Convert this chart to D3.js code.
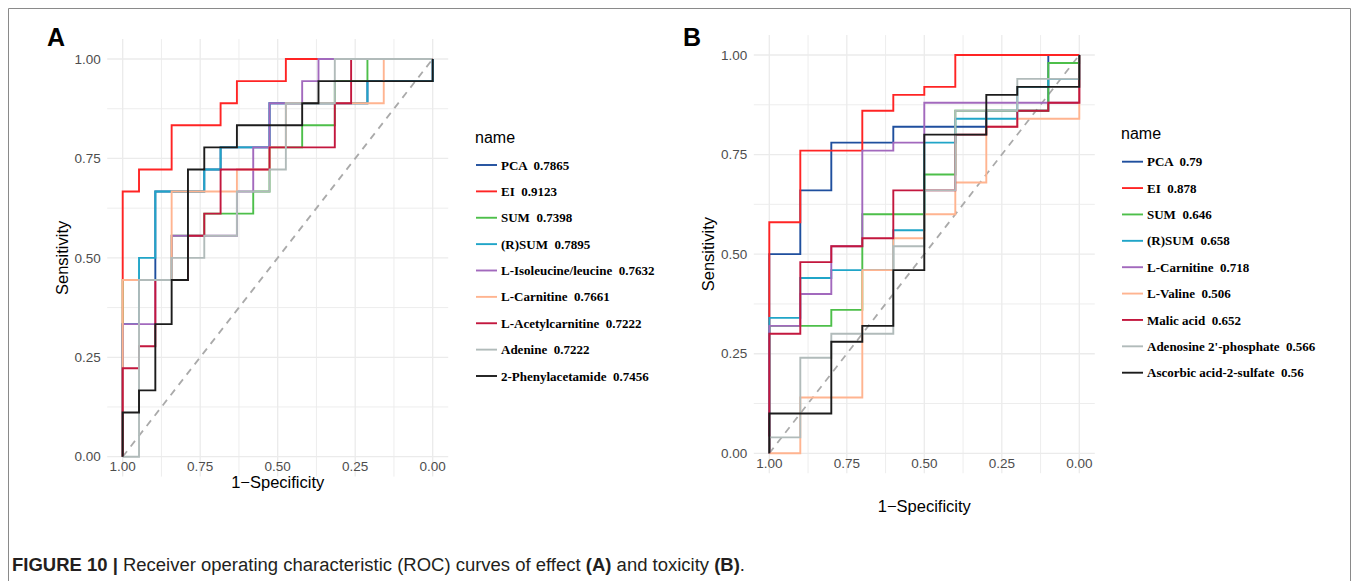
<!DOCTYPE html>
<html>
<head>
<meta charset="utf-8">
<style>
  body { margin: 0; background: #fff; }
  svg text { font-family: "Liberation Sans", Arial, sans-serif; }
  .legend text.item { font-family: "Liberation Serif", "Times New Roman", serif; font-weight: bold; font-size: 13px; white-space: pre; }
</style>
</head>
<body>
<svg id="fig" width="1355" height="581"></svg>

<script src="https://cdn.jsdelivr.net/npm/d3@7/dist/d3.min.js"></script>

<script>
    // colours shared by both panels (ggplot order of the legend)
    var colors = ["#1f4f9e", "#ff2424", "#4dbf4a", "#20a5c8", "#a269bd", "#ffb490", "#c3173e", "#b1bbba", "#1c1c1c"];

    // ---- panel A : effect (19 controls, 18 cases) ----
    var effectNames = ["PCA", "EI", "SUM", "(R)SUM", "L-Isoleucine/leucine", "L-Carnitine", "L-Acetylcarnitine", "Adenine", "2-Phenylacetamide"];
    var effectAuc = ["0.7865", "0.9123", "0.7398", "0.7895", "0.7632", "0.7661", "0.7222", "0.7222", "0.7456"];
    var effectControls = 19;
    var effectCases = 18;
    // true positives reached at each count of false positives (0..19)
    var effectTp = [
      [6, 8, 12, 12, 12, 13, 14, 14, 14, 16, 16, 16, 16, 16, 16, 17, 17, 17, 17, 18],
      [12, 13, 13, 15, 15, 15, 16, 17, 17, 17, 18, 18, 18, 18, 18, 18, 18, 18, 18, 18],
      [8, 8, 8, 10, 10, 11, 11, 11, 12, 14, 14, 15, 15, 17, 17, 18, 18, 18, 18, 18],
      [6, 9, 12, 12, 12, 13, 14, 14, 14, 16, 16, 16, 16, 16, 16, 17, 17, 17, 17, 18],
      [6, 6, 8, 10, 10, 10, 10, 12, 14, 16, 16, 17, 18, 18, 18, 18, 18, 18, 18, 18],
      [8, 8, 8, 12, 12, 12, 12, 13, 13, 14, 16, 16, 16, 16, 16, 16, 18, 18, 18, 18],
      [4, 5, 8, 8, 10, 11, 13, 13, 13, 14, 14, 14, 14, 16, 18, 18, 18, 18, 18, 18],
      [0, 8, 8, 9, 9, 10, 10, 12, 12, 13, 16, 16, 16, 18, 18, 18, 18, 18, 18, 18],
      [2, 3, 6, 8, 13, 14, 14, 15, 15, 15, 15, 16, 17, 17, 17, 17, 17, 17, 17, 18]
    ];

    // ---- panel B : toxicity (10 controls, 50 cases) ----
    var toxNames = ["PCA", "EI", "SUM", "(R)SUM", "L-Carnitine", "L-Valine", "Malic acid", "Adenosine 2'-phosphate", "Ascorbic acid-2-sulfate"];
    var toxAuc = ["0.79", "0.878", "0.646", "0.658", "0.718", "0.506", "0.652", "0.566", "0.56"];
    var toxControls = 10;
    var toxCases = 50;
    var toxTp = [
      [25, 33, 39, 39, 41, 41, 41, 43, 43, 50, 50],
      [29, 38, 38, 43, 45, 46, 50, 50, 50, 50, 50],
      [16, 16, 18, 30, 30, 35, 43, 43, 43, 49, 50],
      [17, 22, 23, 23, 28, 39, 42, 42, 46, 47, 50],
      [16, 20, 26, 38, 39, 44, 44, 44, 44, 44, 50],
      [0, 7, 7, 23, 27, 30, 34, 41, 42, 42, 50],
      [15, 24, 26, 27, 33, 33, 40, 41, 43, 44, 50],
      [2, 12, 15, 15, 26, 33, 43, 43, 47, 47, 50],
      [5, 5, 14, 16, 23, 40, 40, 45, 46, 46, 50]
    ];

    var axisTicks = [1, 0.75, 0.5, 0.25, 0];
    var gridTicks = d3.range(0, 1.0001, 0.125);

    var svg = d3.select("svg#fig");
    svg.append("rect").attr("width", 1355).attr("height", 581).attr("fill", "#fff");

    // figure frame
    svg.append("path")
      .attr("d", "M8.5,581 V8.5 H1350.5 V581")
      .attr("fill", "none")
      .attr("stroke", "#8a8a8a")
      .attr("stroke-width", 1);

    // turns the per-fp tp list into the step path of the roc curve
    function rocPoints(tp, nCtrl, nCase) {
      var pts = [[1, 0]];
      tp.forEach((t, k) => {
        pts.push([1 - k / nCtrl, t / nCase]);
        if (k < nCtrl) pts.push([1 - (k + 1) / nCtrl, t / nCase]);
      });
      return pts;
    }

    function drawPanel(p) {
      var x = d3.scaleLinear().domain([1, 0]).range([p.left, p.right]);
      var y = d3.scaleLinear().domain([0, 1]).range([p.bottom, p.top]);
      var g = svg.append("g");

      // grid (ggplot expands 5% each side)
      g.selectAll("line.gv").data(gridTicks).enter().append("line")
        .attr("x1", d => x(d)).attr("x2", d => x(d))
        .attr("y1", y(-0.05)).attr("y2", y(1.05))
        .attr("stroke", "#ebebeb")
        .attr("stroke-width", (d, i) => i % 2 ? 0.9 : 1.3);
      g.selectAll("line.gh").data(gridTicks).enter().append("line")
        .attr("y1", d => y(d)).attr("y2", d => y(d))
        .attr("x1", x(1.05)).attr("x2", x(-0.05))
        .attr("stroke", "#ebebeb")
        .attr("stroke-width", (d, i) => i % 2 ? 0.9 : 1.3);

      // reference diagonal
      g.append("line")
        .attr("x1", x(1)).attr("y1", y(0))
        .attr("x2", x(0)).attr("y2", y(1))
        .attr("stroke", "#aaaaaa")
        .attr("stroke-width", 1.8)
        .attr("stroke-dasharray", "7,6");

      var line = d3.line().x(d => x(d[0])).y(d => y(d[1]));
      g.selectAll("path.roc").data(p.tp).enter().append("path")
        .attr("class", "roc")
        .attr("d", d => line(rocPoints(d, p.nCtrl, p.nCase)))
        .attr("fill", "none")
        .attr("stroke", (d, i) => colors[i])
        .attr("stroke-width", 1.9)
        .attr("stroke-linejoin", "miter");

      // tick labels
      g.selectAll("text.yt").data(axisTicks).enter().append("text")
        .attr("x", p.left - 22).attr("y", d => y(d))
        .attr("dy", "0.35em")
        .attr("text-anchor", "end")
        .attr("font-size", 13.5)
        .attr("fill", "#4d4d4d")
        .text(d => d.toFixed(2));
      g.selectAll("text.xt").data(axisTicks).enter().append("text")
        .attr("x", d => x(d)).attr("y", p.bottom + p.xTickGap)
        .attr("dy", "0.35em")
        .attr("text-anchor", "middle")
        .attr("font-size", 13.5)
        .attr("fill", "#4d4d4d")
        .text(d => d.toFixed(2));

      // axis titles
      g.append("text")
        .attr("x", (p.left + p.right) / 2).attr("y", p.xTitleY)
        .attr("dy", "0.35em")
        .attr("text-anchor", "middle")
        .attr("font-size", 16.5)
        .text("1\u2212Specificity");
      g.append("text")
        .attr("transform", `translate(${p.yTitleX},${(p.top + p.bottom) / 2}) rotate(-90)`)
        .attr("dy", "0.35em")
        .attr("text-anchor", "middle")
        .attr("font-size", 16.5)
        .text("Sensitivity");

      // panel tag
      g.append("text")
        .attr("x", p.tagX).attr("y", 46)
        .attr("font-size", 25)
        .attr("font-weight", "bold")
        .text(p.tag);

      // legend
      var ly = d3.scalePoint().domain(p.names).range(p.legendRange);
      var lg = g.append("g").attr("class", "legend");
      lg.append("text")
        .attr("x", p.legendX - 1).attr("y", p.legendRange[0] - 28)
        .attr("dy", "0.35em")
        .attr("font-size", 16)
        .text("name");
      var item = lg.selectAll("g.it").data(p.names).enter().append("g")
        .attr("transform", d => `translate(${p.legendX},${ly(d)})`);
      item.append("line")
        .attr("x1", 0).attr("x2", 21)
        .attr("stroke", (d, i) => colors[i])
        .attr("stroke-width", 1.9);
      item.append("text")
        .attr("class", "item")
        .attr("x", 25).attr("dy", "0.35em")
        .text((d, i) => d + "  " + p.auc[i]);
    }

    drawPanel({
      tag: "A", tagX: 47,
      left: 122.7, right: 432.7, top: 59, bottom: 456.7,
      xTickGap: 9.5, xTitleY: 482, yTitleX: 62,
      names: effectNames, auc: effectAuc, tp: effectTp,
      nCtrl: effectControls, nCase: effectCases,
      legendX: 476, legendRange: [165, 376]
    });

    drawPanel({
      tag: "B", tagX: 683,
      left: 769.3, right: 1079.3, top: 55, bottom: 453.3,
      xTickGap: 9.5, xTitleY: 506, yTitleX: 708,
      names: toxNames, auc: toxAuc, tp: toxTp,
      nCtrl: toxControls, nCase: toxCases,
      legendX: 1122, legendRange: [161.7, 372.7]
    });

    // caption
    var cap = svg.append("text")
      .attr("x", 12).attr("y", 571)
      .attr("font-size", 18)
      .attr("textLength", 733)
      .attr("lengthAdjust", "spacingAndGlyphs")
      .attr("fill", "#231f20");
    cap.append("tspan").attr("font-weight", "bold").text("FIGURE 10 | ");
    cap.append("tspan").text("Receiver operating characteristic (ROC) curves of effect ");
    cap.append("tspan").attr("font-weight", "bold").text("(A)");
    cap.append("tspan").text(" and toxicity ");
    cap.append("tspan").attr("font-weight", "bold").text("(B)");
    cap.append("tspan").text(".");
</script>
</body>
</html>
